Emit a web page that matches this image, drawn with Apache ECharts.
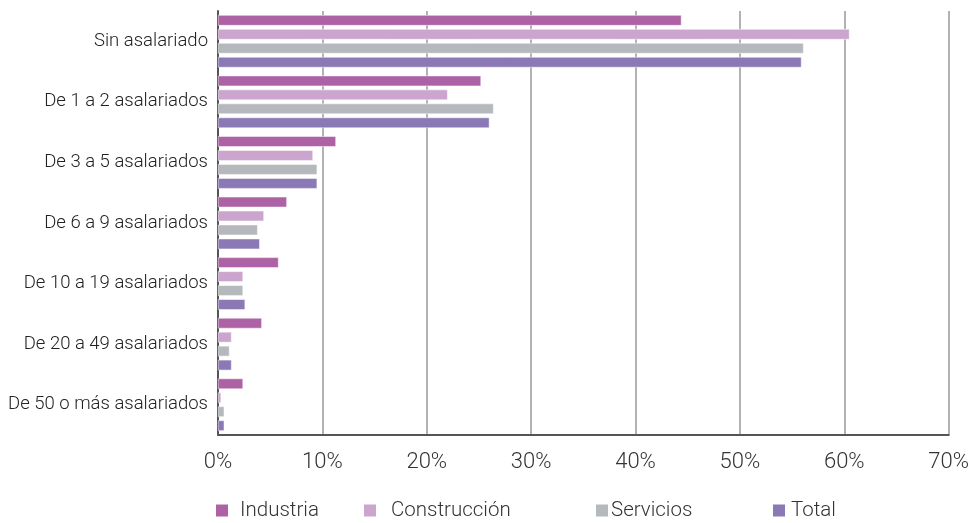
<!DOCTYPE html>
<html>
<head>
<meta charset="utf-8">
<script src="https://cdn.jsdelivr.net/npm/echarts@6/dist/echarts.min.js"></script>
<style>
  html, body { margin: 0; padding: 0; background: #fff; }
  #chart { width: 972px; height: 523px; }
</style>
</head>
<body>
<div id="chart"></div>
<script>
const categories = ['Sin asalariado', 'De 1 a 2 asalariados', 'De 3 a 5 asalariados', 'De 6 a 9 asalariados',
  'De 10 a 19 asalariados', 'De 20 a 49 asalariados', 'De 50 o más asalariados'];
const industria = [44.4, 25.2, 11.3, 6.6, 5.8, 4.2, 2.4];
const construccion = [60.5, 22.0, 9.1, 4.4, 2.4, 1.3, 0.3];
const servicios = [56.1, 26.4, 9.5, 3.8, 2.4, 1.1, 0.6];
const total = [55.9, 26.0, 9.5, 4.0, 2.6, 1.3, 0.6];
const seriesNames = ['Industria', 'Construcción', 'Servicios', 'Total'];
const colors = ['#ad62a6', '#cca5ce', '#b5b8bc', '#8b79b6'];

const chart = echarts.init(document.getElementById('chart'));
const font = 'Roboto';
// legend items are spread unevenly in the original, so one legend per item
const legendLeft = [214, 362, 594, 771];
const legendPad = [6, 9, -3, 0];

chart.setOption({
  animation: false,
  textStyle: { fontFamily: font },
  grid: { left: 218, right: 21, top: 11, bottom: 88, containLabel: false },
  legend: seriesNames.map((name, i) => ({
    data: [name],
    left: legendLeft[i],
    top: 500,
    padding: 0,
    icon: 'rect',
    itemWidth: 14,
    itemHeight: 14,
    itemGap: 0,
    textStyle: { fontSize: 20.5, color: '#333', fontWeight: 300, fontFamily: font, padding: [0, 0, 0, legendPad[i]] }
  })),
  xAxis: {
    type: 'value',
    min: 0,
    max: 70,
    interval: 10,
    axisLine: { show: true, lineStyle: { color: '#555', width: 2 } },
    axisTick: { show: false },
    axisLabel: { formatter: '{value}%', fontSize: 22, color: '#333', fontWeight: 300, margin: 16 },
    splitLine: { show: true, lineStyle: { color: '#999', width: 1.5 } }
  },
  yAxis: {
    type: 'category',
    data: categories,
    inverse: true,
    axisLine: { show: true, lineStyle: { color: '#555', width: 2 } },
    axisTick: { show: false },
    axisLabel: { fontSize: 18.5, color: '#222', fontWeight: 300, margin: 10 }
  },
  series: [industria, construccion, servicios, total].map((d, i) => ({
    name: seriesNames[i],
    type: 'bar',
    data: d,
    barWidth: 10.5,
    barGap: '33%',
    itemStyle: { color: colors[i], borderColor: '#fff', borderWidth: 0.5 }
  }))
});
</script>
</body>
</html>
